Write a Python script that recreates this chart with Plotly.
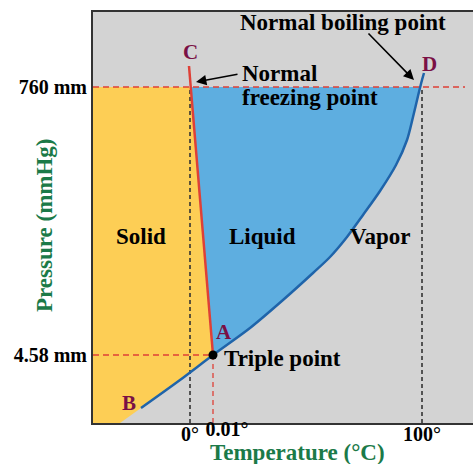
import plotly.graph_objects as go

# Schematic phase diagram of water (diagram units, not to scale)
# Vapor-pressure / sublimation curve B -> A -> D
vap_t = [48, 87, 120, 157, 190, 220, 237, 254, 270, 287, 303, 314, 320, 325, 329, 331]
vap_p = [15, 43, 68, 95, 123, 150, 166, 186, 208, 232, 258, 283, 306, 327, 343, 350]
# extension of sublimation boundary below B (fill only)
sub_ext_t = [27]
sub_ext_p = [0]
# Melting curve A -> C
melt_t = [120, 96]
melt_p = [68, 357]

# Reference positions
p760 = 336          # position of 760 mm
p458 = 68           # position of 4.58 mm
t0 = 97             # position of 0 °C
t001 = 120          # position of 0.01 °C
t100 = 329          # position of 100 °C
melt_at_760 = 97.7  # melting line at 760 mm
vap_at_760 = 327.3  # vapor curve at 760 mm
x_max = 380
y_max = 411
dash_760_end = 372

x_tickvals = [t0, t100]
x_ticktext = ["<b>0°</b>", "<b>100°</b>"]
x2_tickvals = [t001]
x2_ticktext = ["<b>0.01°</b>"]
y_tickvals = [p458, p760]
y_ticktext = ["<b>4.58 mm</b>", "<b>760 mm</b>"]

GRAY = "#D3D3D3"
YELLOW = "#FDCE55"
BLUE_FILL = "#5EAEE0"
BLUE_LINE = "#1F64AA"
RED = "#DE4037"
MAROON = "#7A1045"
GREEN = "#1B7A48"
FONT = "Liberation Serif"

fig = go.Figure()

# Solid region (yellow)
lower = [(t, p) for t, p in zip(vap_t, vap_p) if p <= p458]
solid_x = [0, melt_at_760, melt_t[0]] + [t for t, p in reversed(lower)][1:] + sub_ext_t + [0]
solid_y = [p760, p760, melt_p[0]] + [p for t, p in reversed(lower)][1:] + sub_ext_p + [0]
fig.add_trace(go.Scatter(x=solid_x, y=solid_y, fill="toself", fillcolor=YELLOW,
                         mode="none", hoverinfo="skip", showlegend=False))

# Liquid region (blue)
upper = [(t, p) for t, p in zip(vap_t, vap_p) if p458 <= p < p760]
liq_x = [melt_at_760, vap_at_760] + [t for t, p in reversed(upper)] + [melt_at_760]
liq_y = [p760, p760] + [p for t, p in reversed(upper)] + [p760]
fig.add_trace(go.Scatter(x=liq_x, y=liq_y, fill="toself", fillcolor=BLUE_FILL,
                         mode="none", hoverinfo="skip", showlegend=False))

# Dashed reference lines
def dline(xs, ys, color, width, dash, xaxis="x"):
    fig.add_trace(go.Scatter(x=xs, y=ys, mode="lines", hoverinfo="skip", showlegend=False,
                             xaxis=xaxis, line=dict(color=color, width=width, dash=dash)))

dline([0, dash_760_end], [p760, p760], RED, 1.3, "6px,4px")
dline([0, t001], [p458, p458], RED, 1.3, "6px,4px")
dline([t001, t001], [0, p458], RED, 1.3, "5px,4px", xaxis="x2")
dline([t0, t0], [0, p760], "#333333", 1.6, "4px,3px")
dline([t100, t100], [0, p760], "#333333", 1.6, "4px,3px")

# Vapor curve
fig.add_trace(go.Scatter(x=vap_t, y=vap_p, mode="lines", hoverinfo="skip", showlegend=False,
                         line=dict(color=BLUE_LINE, width=2.5, shape="spline", smoothing=0.8)))
# Melting curve
fig.add_trace(go.Scatter(x=melt_t, y=melt_p, mode="lines", hoverinfo="skip", showlegend=False,
                         line=dict(color=RED, width=2.5)))
# Triple point
fig.add_trace(go.Scatter(x=[t001], y=[p458], mode="markers", hoverinfo="skip", showlegend=False,
                         xaxis="x2", marker=dict(color="black", size=9)))

def label(x, y, text, size=23, color="black", xanchor="center"):
    fig.add_annotation(x=x, y=y, text="<b>" + text + "</b>", showarrow=False,
                       xanchor=xanchor, yanchor="middle",
                       font=dict(family=FONT, size=size, color=color))

label(48, 187, "Solid")
label(169, 187, "Liquid")
label(287, 187, "Vapor")
label(129, 65, "Triple point", xanchor="left")
label(147, 350, "Normal", xanchor="left")
label(147, 326, "freezing point", xanchor="left")
label(250, 401, "Normal boiling point")
label(97, 371, "C", size=21, color=MAROON)
label(336, 359, "D", size=21, color=MAROON)
label(131, 91, "A", size=21, color=MAROON)
label(36, 20, "B", size=21, color=MAROON)

# Arrows
fig.add_annotation(x=103, y=341, ax=146, ay=349, xref="x", yref="y", axref="x", ayref="y",
                   text="", showarrow=True, arrowhead=2, arrowsize=1.3, arrowwidth=1.6,
                   arrowcolor="black")
fig.add_annotation(x=321, y=343, ax=274, ay=391, xref="x", yref="y", axref="x", ayref="y",
                   text="", showarrow=True, arrowhead=2, arrowsize=1.3, arrowwidth=1.6,
                   arrowcolor="black")

# Axis titles
fig.add_annotation(xref="paper", yref="paper", x=-0.126, y=0.482, text="<b>Pressure (mmHg)</b>",
                   textangle=-90, showarrow=False, xanchor="center", yanchor="middle",
                   font=dict(family=FONT, size=23, color=GREEN))
fig.add_annotation(xref="paper", yref="paper", x=0.539, y=-0.071, text="<b>Temperature (°C)</b>",
                   showarrow=False, xanchor="center", yanchor="middle",
                   font=dict(family=FONT, size=23, color=GREEN))

tickfont = dict(family=FONT, size=20, color="black")
fig.update_layout(
    width=473, height=464,
    margin=dict(l=93, r=0, t=12, b=41, autoexpand=False),
    paper_bgcolor="white", plot_bgcolor=GRAY,
    showlegend=False,
    xaxis=dict(range=[0, x_max], showgrid=False, zeroline=False, showline=True,
               linecolor="#333333", linewidth=2, mirror=True, automargin=False,
               tickmode="array", tickvals=x_tickvals, ticktext=x_ticktext, ticks="",
               tickangle=0, ticklabelstandoff=-8, tickfont=tickfont),
    xaxis2=dict(range=[0, x_max], overlaying="x", side="bottom", showgrid=False,
                zeroline=False, showline=False, automargin=False,
                tickmode="array", tickvals=x2_tickvals, ticktext=x2_ticktext, ticks="",
                tickangle=0, ticklabelstandoff=-8, ticklabelshift=14, tickfont=tickfont),
    yaxis=dict(range=[0, y_max], showgrid=False, zeroline=False, showline=True,
               linecolor="#333333", linewidth=2, automargin=False,
               tickmode="array", tickvals=y_tickvals, ticktext=y_ticktext, ticks="",
               tickfont=tickfont),
)

fig.write_html("out.html", config={"displayModeBar": False},
               post_script="document.body.style.margin='0px';")
